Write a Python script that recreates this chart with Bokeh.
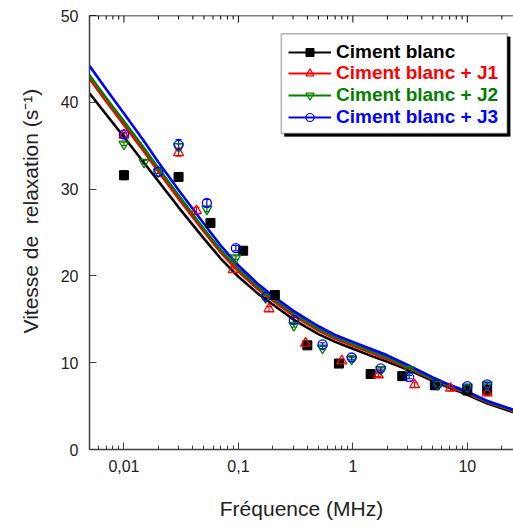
import math
from bokeh.plotting import figure
from bokeh.models import (Range1d, FixedTicker, Whisker, ColumnDataSource, Span,
                          Legend, LegendItem, BoxAnnotation, Title, TeeHead,
                          CustomJSTickFormatter)
from bokeh.embed import file_html
from bokeh.resources import INLINE

FONT = "Liberation Sans"

# ---------------- data ----------------
# Ciment blanc
freq_cb = [0.01, 0.03, 0.057, 0.11, 0.208, 0.40, 0.755, 1.43, 2.70, 5.2, 10.0, 14.9]
rate_cb = [31.6, 31.4, 26.1, 22.9, 17.8, 12.0, 9.9, 8.7, 8.45, 7.4, 6.8, 6.9]
err_cb = [0.5, 0.2, 0.2, 0.2, 0.2, 0.2, 0.2, 0.1, 0.1, 0.1, 0.1, 0.5]

# Ciment blanc + J1
freq_j1 = [0.01, 0.03, 0.043, 0.09, 0.185, 0.386, 0.80, 1.67, 3.46, 7.13, 14.9]
rate_j1 = [36.2, 34.2, 27.5, 20.7, 16.2, 12.25, 10.2, 8.6, 7.45, 7.05, 6.5]
err_j1 = [0.3, 0.4, 0.4, 0.3, 0.3, 0.3, 0.2, 0.2, 0.3, 0.3, 0.3]

# Ciment blanc + J2
freq_j2 = [0.01, 0.015, 0.02, 0.03, 0.053, 0.095, 0.173, 0.305, 0.543, 0.975, 1.75, 3.08, 5.52, 10.0, 14.9]
rate_j2 = [35.2, 33.1, 32.0, 34.9, 27.7, 22.1, 17.5, 14.3, 11.7, 10.4, 9.2, 9.2, 7.5, 7.2, 7.45]
err_j2 = [0.2, 0.2, 0.2, 0.3, 0.3, 0.2, 0.2, 0.2, 0.2, 0.2, 0.2, 0.2, 0.2, 0.2, 0.2]

# Ciment blanc + J3
freq_j3 = [0.01, 0.02, 0.03, 0.053, 0.095, 0.175, 0.305, 0.543, 0.975, 1.75, 3.1, 5.52, 10.0, 14.9]
rate_j3 = [36.3, 32.0, 35.1, 28.4, 23.2, 17.6, 14.9, 12.1, 10.6, 9.35, 8.35, 7.55, 7.3, 7.5]
err_j3 = [0.2, 0.2, 0.6, 0.4, 0.3, 0.2, 0.3, 0.2, 0.2, 0.2, 0.2, 0.2, 0.2, 0.2]

# fitted curves
curve_f = [0.005, 0.007, 0.01, 0.015, 0.02, 0.03, 0.05, 0.07, 0.1, 0.15, 0.2, 0.3,
           0.5, 0.7, 1, 1.5, 2, 3, 5, 7, 10, 15, 25]
curve_cb = [41.05, 38.6, 36.0, 33.0, 30.9, 27.9, 24.3, 22.0, 19.9, 17.9, 16.7, 15.0,
            13.3, 12.4, 11.6, 10.7, 10.1, 9.2, 7.9, 7.1, 6.3, 5.3, 4.3]
curve_j1 = [42.7, 40.1, 37.4, 34.3, 32.0, 28.9, 25.1, 22.7, 20.5, 18.4, 17.15, 15.45,
            13.7, 12.75, 11.95, 11.05, 10.4, 9.4, 8.05, 7.25, 6.45, 5.45, 4.45]
curve_j2 = [43.1, 40.5, 37.8, 34.7, 32.4, 29.3, 25.4, 23.0, 20.8, 18.65, 17.4, 15.7,
            13.9, 12.95, 12.15, 11.25, 10.6, 9.55, 8.15, 7.35, 6.55, 5.5, 4.5]
curve_j3 = [44.2, 41.5, 38.7, 35.5, 33.1, 29.9, 26.0, 23.5, 21.2, 19.0, 17.7, 16.0,
            14.2, 13.2, 12.4, 11.5, 10.85, 9.75, 8.3, 7.45, 6.65, 5.6, 4.6]

labels = ["Ciment blanc", "Ciment blanc + J1", "Ciment blanc + J2", "Ciment blanc + J3"]
colors = ["black", "#FF0000", "#008000", "#0000FF"]
markers = ["square", "triangle", "inverted_triangle", "circle"]

x_major = [0.01, 0.1, 1, 10]
x_minor = [m * d for d in [0.001, 0.01, 0.1, 1, 10] for m in range(2, 10)]
y_major = [0, 10, 20, 30, 40, 50]
Y_MIN, Y_MAX = 0, 50

# ---------------- figure ----------------
p = figure(width=513, height=527, x_axis_type="log", title_location=None,
           x_range=Range1d(0.005, 25.3), y_range=Range1d(Y_MIN, Y_MAX),
           output_backend="svg", toolbar_location=None,
           min_border_left=89, min_border_right=0, min_border_top=15, min_border_bottom=78)
p.outline_line_color = None
p.grid.visible = False
p.background_fill_color = "white"

xa = p.xaxis[0]
xa.ticker = FixedTicker(ticks=x_major, minor_ticks=x_minor)
xa.formatter = CustomJSTickFormatter(code="return tick.toString().replace('.', ',')")
xa.major_tick_in = 7
xa.major_tick_out = 0
xa.minor_tick_in = 4
xa.minor_tick_out = 0
xa.major_label_standoff = 10
xa.major_label_text_font = FONT
xa.major_label_text_font_size = "16px"
xa.major_label_text_color = "#222222"
xa.axis_line_color = "#404040"
xa.axis_line_width = 1.5
xa.major_tick_line_color = "#404040"
xa.minor_tick_line_color = "#404040"
xa.axis_label = "Fréquence (MHz)"
xa.axis_label_text_font = FONT
xa.axis_label_text_font_size = "21px"
xa.axis_label_text_font_style = "normal"
xa.axis_label_text_color = "#222222"
xa.axis_label_standoff = 22

ya = p.yaxis[0]
ya.ticker = FixedTicker(ticks=y_major, minor_ticks=[])
ya.major_tick_in = 7
ya.major_tick_out = 0
ya.minor_tick_in = 0
ya.minor_tick_out = 0
ya.major_label_standoff = 11
ya.major_label_text_font = FONT
ya.major_label_text_font_size = "16px"
ya.major_label_text_color = "#222222"
ya.axis_line_color = "#404040"
ya.axis_line_width = 1.5
ya.major_tick_line_color = "#404040"

p.add_layout(Title(text="Vitesse de\u00a0 relaxation (s\u207b\u00b9)", align="left", offset=116,
                   standoff=31, text_font=FONT, text_font_size="21px",
                   text_font_style="normal", text_color="#222222"), "left")

# top frame line with inward ticks (same tick positions as the bottom axis)
p.add_layout(Span(location=Y_MAX, dimension="width", line_color="black", line_width=1.5))
px_per_unit = 434 / (Y_MAX - Y_MIN)
p.segment(x0=x_major, y0=[Y_MAX] * len(x_major), x1=x_major,
          y1=[Y_MAX - 7 / px_per_unit] * len(x_major), line_color="black", line_width=1)
p.segment(x0=x_minor, y0=[Y_MAX] * len(x_minor), x1=x_minor,
          y1=[Y_MAX - 4 / px_per_unit] * len(x_minor), line_color="black", line_width=1)

# curves
for cy, c in zip([curve_cb, curve_j1, curve_j2, curve_j3], colors):
    p.line(curve_f, cy, line_color=c, line_width=2.6)

# error bars + points
series = [(freq_cb, rate_cb, err_cb), (freq_j1, rate_j1, err_j1),
          (freq_j2, rate_j2, err_j2), (freq_j3, rate_j3, err_j3)]
for (fx, ry, er), c, m in zip(series, colors, markers):
    src = ColumnDataSource(dict(base=fx, upper=[r + e for r, e in zip(ry, er)],
                                lower=[r - e for r, e in zip(ry, er)]))
    p.add_layout(Whisker(source=src, base="base", upper="upper", lower="lower",
                         line_color=c, line_width=1.2,
                         upper_head=TeeHead(size=6, line_color=c, line_width=1.2),
                         lower_head=TeeHead(size=6, line_color=c, line_width=1.2)))
for (fx, ry, er), c, m in zip(series, colors, markers):
    if m == "square":
        p.scatter(fx, ry, marker=m, size=9, fill_color=c, line_color=c)
    else:
        p.scatter(fx, ry, marker=m, size=10 if m != "circle" else 9,
                  fill_color=None, line_color=c, line_width=1.3)

# legend box with shadow
p.add_layout(BoxAnnotation(left=0.252, right=23.7, top=47.55, bottom=36.05,
                           fill_color="black", fill_alpha=1, line_color="black"))
p.add_layout(BoxAnnotation(left=0.237, right=22.3, top=47.9, bottom=36.4,
                           fill_color="white", fill_alpha=1, line_color="black", line_width=1.5))

row_y = [386.3, 364.7, 343.0, 321.3]
for (fx, ry, er), lab, c, m, yy in zip(series, labels, colors, markers, row_y):
    lr = p.line(fx, ry, line_color=c, line_width=2, visible=False)
    if m == "square":
        sr = p.scatter(fx, ry, marker=m, size=7, fill_color=c, line_color=c, visible=False)
    else:
        sr = p.scatter(fx, ry, marker=m, size=7, fill_color=None, line_color=c,
                       line_width=1.2, visible=False)
    leg = Legend(items=[LegendItem(label=lab, renderers=[lr, sr])], location=(199, yy),
                 padding=0, margin=0, spacing=0, glyph_width=43, glyph_height=20,
                 label_standoff=5, label_height=20,
                 label_text_font=FONT, label_text_font_size="19px",
                 label_text_font_style="bold", label_text_color=c,
                 inactive_fill_alpha=0, click_policy="none",
                 border_line_alpha=0, background_fill_alpha=0)
    p.add_layout(leg)

open("out.html", "w").write(file_html(p, INLINE))
